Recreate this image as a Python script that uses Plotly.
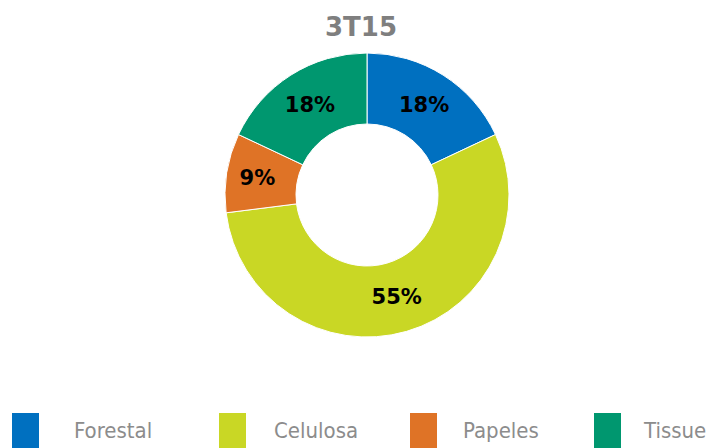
import plotly.graph_objects as go

# Data
labels = ['Forestal', 'Celulosa', 'Papeles', 'Tissue']
values = [18, 55, 9, 18]
colors = ['#0070c0', '#c9d725', '#df7326', '#00976f']
title = '3T15'

W, H = 719, 448
OFF = 8  # page body margin


def px(x):
    return (x - OFF) / W


def py(y):
    return 1 - (y - OFF) / H


fig = go.Figure()
fig.add_trace(go.Pie(
    labels=labels, values=values, hole=0.5, sort=False, direction='clockwise', rotation=0,
    marker=dict(colors=colors, line=dict(color='white', width=1)),
    texttemplate='<b>%{value}%</b>', textposition='inside', insidetextorientation='horizontal',
    textfont=dict(family='DejaVu Sans', size=21, color='black'),
    domain=dict(x=[px(225), px(509)], y=[py(337), py(53)]),
    showlegend=False, hoverinfo='label+percent',
))

# Custom legend with large square swatches
box_x = [12, 219, 410, 594]
text_x = [72, 272, 461, 641]
for i, (lab, col) in enumerate(zip(labels, colors)):
    x0 = box_x[i]
    fig.add_shape(type='rect', xref='paper', yref='paper',
                  x0=px(x0), x1=px(x0 + 27), y0=py(452), y1=py(413),
                  fillcolor=col, line=dict(width=0))
    fig.add_annotation(text=lab, xref='paper', yref='paper', x=px(text_x[i]), y=py(430),
                       xanchor='left', yanchor='middle', showarrow=False,
                       font=dict(family='DejaVu Sans Condensed, Liberation Sans Narrow, Liberation Sans', size=22,
                                 color='#8c8c8c'))

fig.update_layout(
    width=W, height=H,
    margin=dict(l=0, r=0, t=0, b=0),
    paper_bgcolor='white', plot_bgcolor='white',
    title=dict(text='<b>' + title + '</b>', x=px(361), xanchor='center', y=py(27), yanchor='middle',
               font=dict(family='DejaVu Sans', size=26, color='#7f7f7f')),
)

fig.write_html('out.html')
